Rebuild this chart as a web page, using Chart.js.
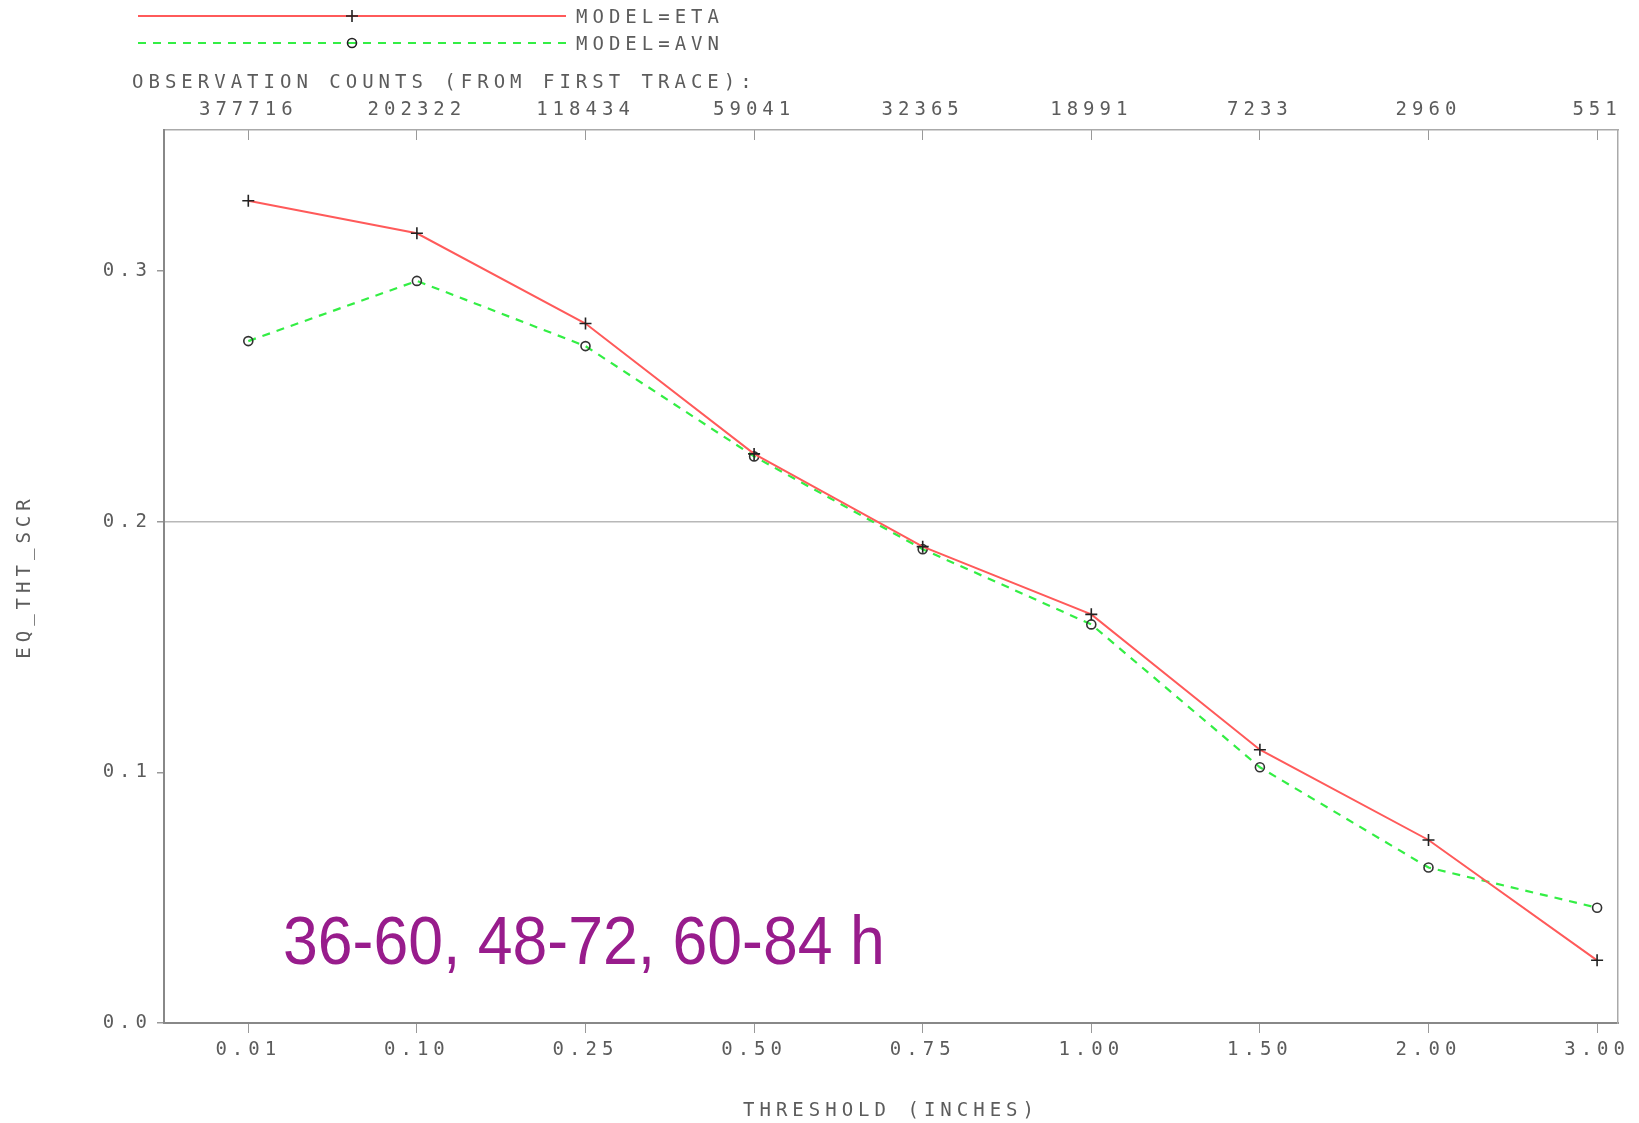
<!DOCTYPE html>
<html>
<head>
<meta charset="utf-8">
<script src="https://cdn.jsdelivr.net/npm/chart.js@4.4.1/dist/chart.umd.min.js"></script>
<style>
  html, body { margin: 0; padding: 0; background: #ffffff; }
  #wrap { width: 1639px; height: 1123px; }
</style>
</head>
<body>
<div id="wrap"><canvas id="eqChart" width="1639" height="1123"></canvas></div>
<script>
// 🔹 data
const thresholds = ["0.01", "0.10", "0.25", "0.50", "0.75", "1.00", "1.50", "2.00", "3.00"];
const obsCounts = ["377716", "202322", "118434", "59041", "32365", "18991", "7233", "2960", "551"];
const etaValues = [0.328, 0.315, 0.279, 0.227, 0.190, 0.163, 0.109, 0.073, 0.025];
const avnValues = [0.272, 0.296, 0.270, 0.226, 0.189, 0.159, 0.102, 0.062, 0.046];
const yTicks = [0, 0.1, 0.2, 0.3];

const labelFont = { family: "'DejaVu Sans Mono', monospace", size: 19 };
const textGray = "#5c5c5c";
const etaColor = "#ff5a5a";
const avnColor = "#33ee44";
const spacing = "5px";

function toPoints(values) {
  return values.map((v, i) => ({ x: i, y: v }));
}

// 🔹 wide, spaced-out lettering like the plotter font
const spacingPlugin = {
  id: "spacing",
  beforeDraw(chart) {
    chart.ctx.letterSpacing = spacing;
  }
};

// 🔹 legend + header text + annotation
const extrasPlugin = {
  id: "extras",
  afterDraw(chart) {
    const ctx = chart.ctx;
    ctx.save();

    // legend lines
    ctx.lineWidth = 2;
    ctx.strokeStyle = etaColor;
    ctx.beginPath();
    ctx.moveTo(138, 16);
    ctx.lineTo(566, 16);
    ctx.stroke();

    ctx.strokeStyle = avnColor;
    ctx.lineWidth = 2.2;
    ctx.setLineDash([8, 7]);
    ctx.beginPath();
    ctx.moveTo(138, 43);
    ctx.lineTo(566, 43);
    ctx.stroke();
    ctx.setLineDash([]);

    // legend markers
    ctx.strokeStyle = "#222";
    ctx.lineWidth = 1.6;
    ctx.beginPath();
    ctx.moveTo(346, 16); ctx.lineTo(358, 16);
    ctx.moveTo(352, 10); ctx.lineTo(352, 22);
    ctx.stroke();
    ctx.beginPath();
    ctx.arc(352, 43, 4.5, 0, Math.PI * 2);
    ctx.stroke();

    // legend text
    ctx.letterSpacing = spacing;
    ctx.font = "19px 'DejaVu Sans Mono', monospace";
    ctx.fillStyle = textGray;
    ctx.textBaseline = "middle";
    ctx.textAlign = "left";
    ctx.fillText("MODEL=ETA", 576, 18);
    ctx.fillText("MODEL=AVN", 576, 45);
    ctx.fillText("OBSERVATION COUNTS (FROM FIRST TRACE):", 132, 83);

    // forecast hours annotation
    ctx.letterSpacing = "0px";
    ctx.fillStyle = "#981c8c";
    ctx.font = "68px 'Liberation Sans', Arial, sans-serif";
    ctx.textBaseline = "alphabetic";
    ctx.translate(283, 964);
    ctx.scale(0.92, 1);
    ctx.fillText("36-60, 48-72, 60-84 h", 0, 0);

    ctx.restore();
  }
};

function drawChart() {
  const ctx = document.getElementById("eqChart").getContext("2d");

  new Chart(ctx, {
    type: "line",
    data: {
      datasets: [
        {
          label: "MODEL=ETA",
          data: toPoints(etaValues),
          borderColor: etaColor,
          borderWidth: 2,
          pointStyle: "cross",
          pointRadius: 6,
          pointBorderColor: "#222",
          pointBorderWidth: 1.6,
          tension: 0
        },
        {
          label: "MODEL=AVN",
          data: toPoints(avnValues),
          borderColor: avnColor,
          borderWidth: 2.2,
          borderDash: [8, 7],
          pointStyle: "circle",
          pointRadius: 4.5,
          pointBorderColor: "#333",
          pointBackgroundColor: "rgba(0,0,0,0)",
          pointBorderWidth: 1.6,
          tension: 0
        }
      ]
    },
    options: {
      responsive: false,
      animation: false,
      layout: { padding: 0 },
      plugins: {
        legend: { display: false },
        title: { display: false },
        tooltip: { enabled: false }
      },
      scales: {
        x: {
          type: "linear",
          position: "bottom",
          min: -0.5,
          max: 8.124,
          afterBuildTicks: (s) => { s.ticks = thresholds.map((_, i) => ({ value: i })); },
          afterFit: (s) => { s.height = 100; },
          ticks: {
            callback: (v) => thresholds[v] ?? "",
            font: labelFont,
            color: textGray,
            padding: 6,
            maxRotation: 0,
            autoSkip: false
          },
          grid: { drawOnChartArea: false, tickLength: 10, tickColor: "#999" },
          border: { color: "#888", width: 2 },
          title: {
            display: true,
            text: "THRESHOLD (INCHES)",
            font: labelFont,
            color: textGray,
            padding: { top: 0, bottom: 1 }
          }
        },
        xTop: {
          type: "linear",
          position: "top",
          min: -0.5,
          max: 8.124,
          afterBuildTicks: (s) => { s.ticks = obsCounts.map((_, i) => ({ value: i })); },
          afterFit: (s) => { s.height = 130; },
          ticks: {
            callback: (v) => obsCounts[v] ?? "",
            font: labelFont,
            color: textGray,
            padding: 19,
            maxRotation: 0,
            autoSkip: false
          },
          grid: { drawOnChartArea: false, tickLength: -10, tickColor: "#999" },
          border: { color: "#aaa", width: 1.5 }
        },
        y: {
          type: "linear",
          position: "left",
          min: 0,
          max: 0.3562,
          afterBuildTicks: (s) => { s.ticks = yTicks.map((v) => ({ value: v })); },
          afterFit: (s) => { s.width = 164; },
          ticks: {
            callback: (v) => v.toFixed(1),
            font: labelFont,
            color: textGray,
            padding: 5
          },
          grid: {
            color: (c) => (c.tick && Math.abs(c.tick.value - 0.2) < 1e-9 ? "#b8b8b8" : "rgba(0,0,0,0)"),
            lineWidth: 1.5,
            tickLength: 7,
            tickColor: "#999"
          },
          border: { color: "#888", width: 2 },
          title: {
            display: true,
            text: "EQ_THT_SCR",
            font: labelFont,
            color: textGray,
            padding: { top: 14, bottom: 0 }
          }
        },
        yRight: {
          type: "linear",
          position: "right",
          min: 0,
          max: 0.3562,
          afterFit: (s) => { s.width = 21; },
          ticks: { display: false },
          grid: { display: false },
          border: { display: true, color: "#aaa", width: 1.5 }
        }
      }
    },
    plugins: [spacingPlugin, extrasPlugin]
  });
}

drawChart();
</script>
</body>
</html>
